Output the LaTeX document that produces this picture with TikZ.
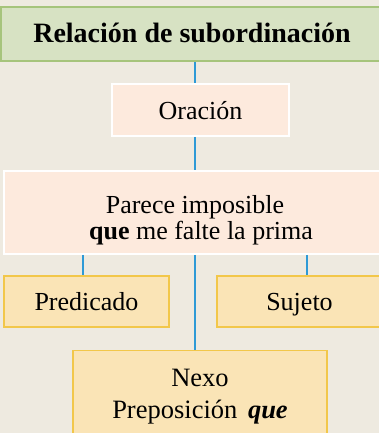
\documentclass[tikz,border=0pt]{standalone}
\usepackage{fontspec}
\setmainfont{Liberation Serif}
\definecolor{bgc}{HTML}{EEEAE0}
\definecolor{titlefill}{HTML}{D7E2C3}
\definecolor{titledraw}{HTML}{A6C47C}
\definecolor{pinkfill}{HTML}{FDEADD}
\definecolor{yelfill}{HTML}{FAE4B6}
\definecolor{yeldraw}{HTML}{F2C74A}
\definecolor{linec}{HTML}{2E9AD6}
\tikzset{
  titlebox/.style={rectangle, fill=titlefill, draw=titledraw, line width=2pt, inner sep=0pt,
    font=\fontsize{28}{30}\selectfont\bfseries, text height=18pt, text depth=0pt},
  pinkbox/.style={rectangle, fill=pinkfill, draw=white, line width=1.5pt, inner sep=0pt,
    font=\fontsize{26}{26}\selectfont},
  yelbox/.style={rectangle, fill=yelfill, draw=yeldraw, line width=1.2pt, inner sep=0pt,
    font=\fontsize{26}{26}\selectfont},
  conn/.style={draw=linec, line width=1.3pt}
}
\begin{document}
\begin{tikzpicture}[x=1pt,y=-1pt]
\fill[bgc] (0,0) rectangle (379,433);
\useasboundingbox (0,0) rectangle (379,433);
\clip (0,0) rectangle (379,433);
% axis coordinates for connectors
\coordinate (axis) at (195,0);
\coordinate (leftx) at (83,0);
\coordinate (rightx) at (307,0);
% boxes
\node[titlebox, minimum width=382pt, minimum height=54pt] (title) at (192,34) {Relación de subordinación};
\node[pinkbox, minimum width=177pt, minimum height=52pt, text height=18pt, text depth=0pt] (oracion) at (200.5,110) {Oración};
\node[pinkbox, minimum width=382pt, minimum height=83pt, align=center] (frase) at (195,212.5)
  {\rule{0pt}{33pt}Parece imposible\\[0pt]\hspace*{12pt}\textbf{que} me falte la prima};
\node[yelbox, minimum width=165pt, minimum height=51pt, text height=18pt, text depth=0pt] (pred) at (86.5,301.5) {Predicado};
\node[yelbox, minimum width=165pt, minimum height=51pt, text height=18pt, text depth=0pt] (suj) at (299.5,301.5) {Sujeto};
\node[yelbox, minimum width=254pt, minimum height=92pt, align=center,
  font=\fontsize{26.5}{32}\selectfont] (nexo) at (200,396.5) {Nexo\\Preposición\hspace{4pt} \textbf{\textit{que}}};
% connectors
\draw[conn] (axis |- title.south) -- (axis |- oracion.north);
\draw[conn] (axis |- oracion.south) -- (axis |- frase.north);
\draw[conn] (leftx |- frase.south) -- (leftx |- pred.north);
\draw[conn] (rightx |- frase.south) -- (rightx |- suj.north);
\draw[conn] (axis |- frase.south) -- (axis |- nexo.north);
\end{tikzpicture}
\end{document}
